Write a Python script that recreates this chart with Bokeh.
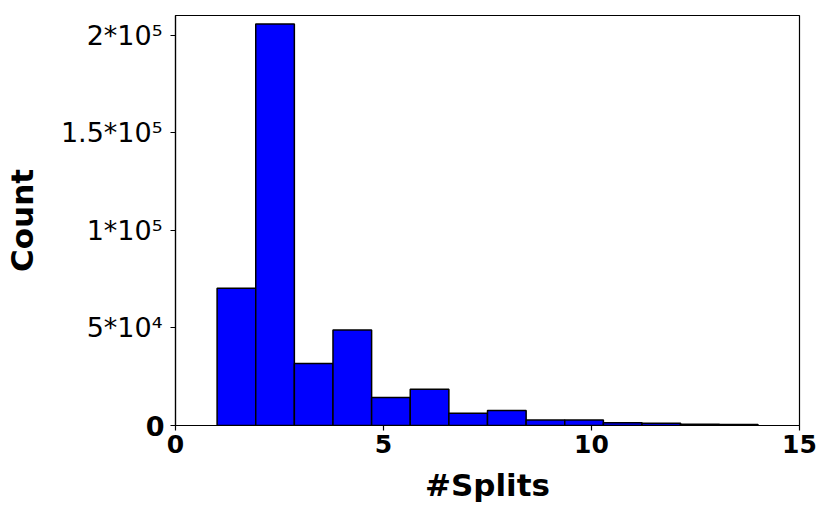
from bokeh.plotting import figure
from bokeh.models import FixedTicker, LinearAxis, Range1d
from bokeh.embed import file_html
from bokeh.resources import INLINE

# histogram data (14 bins from 1 to 14)
bin_start = 1.0
bin_end = 14.0
counts = [70300, 205600, 31700, 48900, 14300, 18600, 6300, 7700, 2800, 2800, 1400, 1200, 700, 500]
x_ticks = [0, 5, 10, 15]
y_ticks = [0, 50000, 100000, 150000, 200000]
y_tick_labels = {0: "0", 50000: "5*10⁴", 100000: "1*10⁵", 150000: "1.5*10⁵", 200000: "2*10⁵"}

n = len(counts)
w = (bin_end - bin_start) / n
lefts = [bin_start + i * w for i in range(n)]
rights = [l + w for l in lefts]

W, H = 822, 507
BL, BR, BT, BB = 175, 23, 15, 82

p = figure(width=W, height=H, output_backend="svg", toolbar_location=None,
           x_range=Range1d(0, 15), y_range=Range1d(0, 210000),
           min_border_left=BL, min_border_right=BR, min_border_top=BT, min_border_bottom=BB)
p.quad(left=lefts, right=rights, bottom=0, top=counts, fill_color="#0000ff",
       line_color="black", line_width=1.5)

p.xgrid.visible = False
p.ygrid.visible = False
p.outline_line_color = "black"
p.outline_line_width = 1.2

FONT = "DejaVu Sans"

def style(ax):
    ax.axis_line_color = "black"
    ax.axis_line_width = 1.2
    ax.major_tick_line_color = "black"
    ax.major_tick_line_width = 1.2
    ax.major_tick_out = 5
    ax.major_tick_in = 0
    ax.minor_tick_line_color = None
    ax.major_label_text_font = FONT
    ax.major_label_text_color = "black"
    ax.axis_label_text_font = FONT
    ax.axis_label_text_font_size = "31px"
    ax.axis_label_text_font_style = "bold"
    ax.axis_label_text_color = "black"

# x axis
xa = p.xaxis[0]
style(xa)
xa.ticker = FixedTicker(ticks=x_ticks)
xa.major_label_text_font_size = "25px"
xa.major_label_text_font_style = "bold"
xa.axis_label = "#Splits"
xa.major_label_standoff = 4
xa.axis_label_standoff = 11

# inner y axis: line, ticks and the bold zero label
ya = p.yaxis[0]
style(ya)
ya.ticker = FixedTicker(ticks=y_ticks)
ya.major_label_overrides = {t: (y_tick_labels[t] if t == 0 else "") for t in y_ticks}
ya.major_label_text_font_size = "27px"
ya.major_label_text_font_style = "bold"
ya.major_label_standoff = 6

# outer y axis: remaining tick labels and the axis title
yb = LinearAxis()
style(yb)
yb.ticker = FixedTicker(ticks=[t for t in y_ticks if t != 0])
yb.major_label_overrides = {t: y_tick_labels[t] for t in y_ticks if t != 0}
yb.axis_line_color = None
yb.major_tick_line_color = None
yb.major_tick_out = 0
yb.major_label_text_font_size = "27px"
yb.major_label_standoff = -20
yb.axis_label = "Count"
yb.axis_label_standoff = 18
p.add_layout(yb, "left")

open("out.html", "w").write(file_html(p, INLINE))
